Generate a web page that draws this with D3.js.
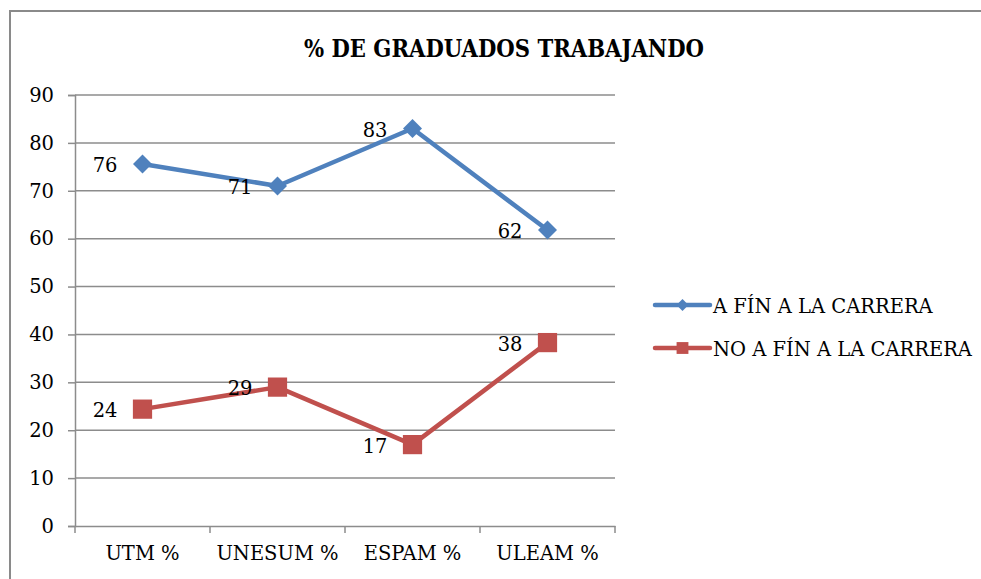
<!DOCTYPE html>
<html>
<head>
<meta charset="utf-8">
<script src="https://cdn.jsdelivr.net/npm/d3@7"></script>
<style>
  body { margin: 0; background: #fff; }
</style>
</head>
<body>
<div id="chart"></div>
<script>
// chart data
const categories = ["UTM %", "UNESUM %", "ESPAM %", "ULEAM %"];
const seriesNames = ["A FÍN A LA CARRERA", "NO A FÍN A LA CARRERA"];
const afinValues = [75.6, 71, 83, 61.8];
const noAfinValues = [24.4, 29, 17, 38.3];
const yTicks = [0, 10, 20, 30, 40, 50, 60, 70, 80, 90];

const width = 981, height = 579;
const margin = { top: 95, left: 75, right: 366, bottom: 53 };
const colors = ["#4F81BD", "#C0504D"];
const grid = "#8c8c8c";
const FONT = "'DejaVu Serif', 'Liberation Serif', serif";
const fs = 19.5;

const svg = d3.select("#chart").append("svg")
  .attr("width", width)
  .attr("height", height)
  .style("font-family", FONT);

// outer chart border
svg.append("path")
  .attr("d", `M10,${height + 5} L10,11 L${width + 5},11`)
  .attr("fill", "none")
  .attr("stroke", "#8a8a8a")
  .attr("stroke-width", 2);

const x = d3.scaleBand()
  .domain(categories)
  .range([margin.left, width - margin.right]);

const y = d3.scaleLinear()
  .domain([0, 90])
  .range([height - margin.bottom, margin.top]);

// title
svg.append("text")
  .attr("x", 504)
  .attr("y", 57)
  .attr("text-anchor", "middle")
  .style("font-family", FONT)
  .attr("font-size", 25)
  .attr("font-weight", "bold")
  .attr("textLength", 400)
  .attr("lengthAdjust", "spacingAndGlyphs")
  .text("% DE GRADUADOS TRABAJANDO");

// horizontal gridlines
svg.append("g")
  .selectAll("line")
  .data(yTicks.filter(d => d > 0))
  .join("line")
  .attr("x1", margin.left)
  .attr("x2", width - margin.right)
  .attr("y1", d => y(d))
  .attr("y2", d => y(d))
  .attr("stroke", grid)
  .attr("stroke-width", 1.5);

// y axis
const yAxis = svg.append("g")
  .attr("transform", `translate(${margin.left},0)`)
  .call(d3.axisLeft(y).tickValues(yTicks).tickSize(7).tickPadding(14));
yAxis.attr("font-family", null);
yAxis.select(".domain").attr("stroke", grid).attr("stroke-width", 1.5);
yAxis.selectAll(".tick line").attr("stroke", grid).attr("stroke-width", 1.5);
yAxis.selectAll(".tick text")
  .attr("font-size", fs)
  .style("font-family", FONT);

// x axis with ticks at band edges
const xAxis = svg.append("g")
  .attr("transform", `translate(0,${y(0)})`)
  .call(d3.axisBottom(x).tickSize(0).tickPadding(20));
xAxis.attr("font-family", null);
xAxis.select(".domain").attr("stroke", grid).attr("stroke-width", 1.5);
xAxis.selectAll(".tick text")
  .attr("font-size", fs)
  .style("font-family", FONT);
xAxis.selectAll(".edge")
  .data(categories.map(c => x(c)).concat([x.range()[1]]))
  .join("line")
  .attr("class", "edge")
  .attr("x1", d => d)
  .attr("x2", d => d)
  .attr("y1", 0)
  .attr("y2", 7)
  .attr("stroke", grid)
  .attr("stroke-width", 1.5);

const cx = c => x(c) + x.bandwidth() / 2;
const line = d3.line()
  .x((d, i) => cx(categories[i]))
  .y(d => y(d));

const series = [afinValues, noAfinValues];

series.forEach((vals, s) => {
  svg.append("path")
    .datum(vals)
    .attr("d", line)
    .attr("fill", "none")
    .attr("stroke", colors[s])
    .attr("stroke-width", 4.5)
    .attr("stroke-linejoin", "round");

  const sym = s === 0
    ? d3.symbol().type(d3.symbolDiamond2).size(230)
    : d3.symbol().type(d3.symbolSquare).size(370);

  svg.append("g")
    .selectAll("path")
    .data(vals)
    .join("path")
    .attr("d", sym)
    .attr("transform", (d, i) => `translate(${cx(categories[i])},${y(d)})`)
    .attr("fill", colors[s]);

  svg.append("g")
    .selectAll("text")
    .data(vals)
    .join("text")
    .attr("x", (d, i) => cx(categories[i]) - 25)
    .attr("y", d => y(d) + 8)
    .attr("text-anchor", "end")
    .attr("font-size", fs)
    .style("font-family", FONT)
    .text(d => Math.round(d));
});

// legend
const legend = svg.append("g");
seriesNames.forEach((name, s) => {
  const ly = 305 + s * 43;
  legend.append("line")
    .attr("x1", 655).attr("x2", 710)
    .attr("y1", ly).attr("y2", ly)
    .attr("stroke", colors[s])
    .attr("stroke-width", 4.5)
    .attr("stroke-linecap", "round");
  const sym = s === 0
    ? d3.symbol().type(d3.symbolDiamond2).size(90)
    : d3.symbol().type(d3.symbolSquare).size(140);
  legend.append("path")
    .attr("d", sym)
    .attr("transform", `translate(682.5,${ly})`)
    .attr("fill", colors[s]);
  legend.append("text")
    .attr("x", 713)
    .attr("y", ly + 8)
    .attr("font-size", fs)
    .style("font-family", FONT)
    .text(name);
});
</script>
</body>
</html>
